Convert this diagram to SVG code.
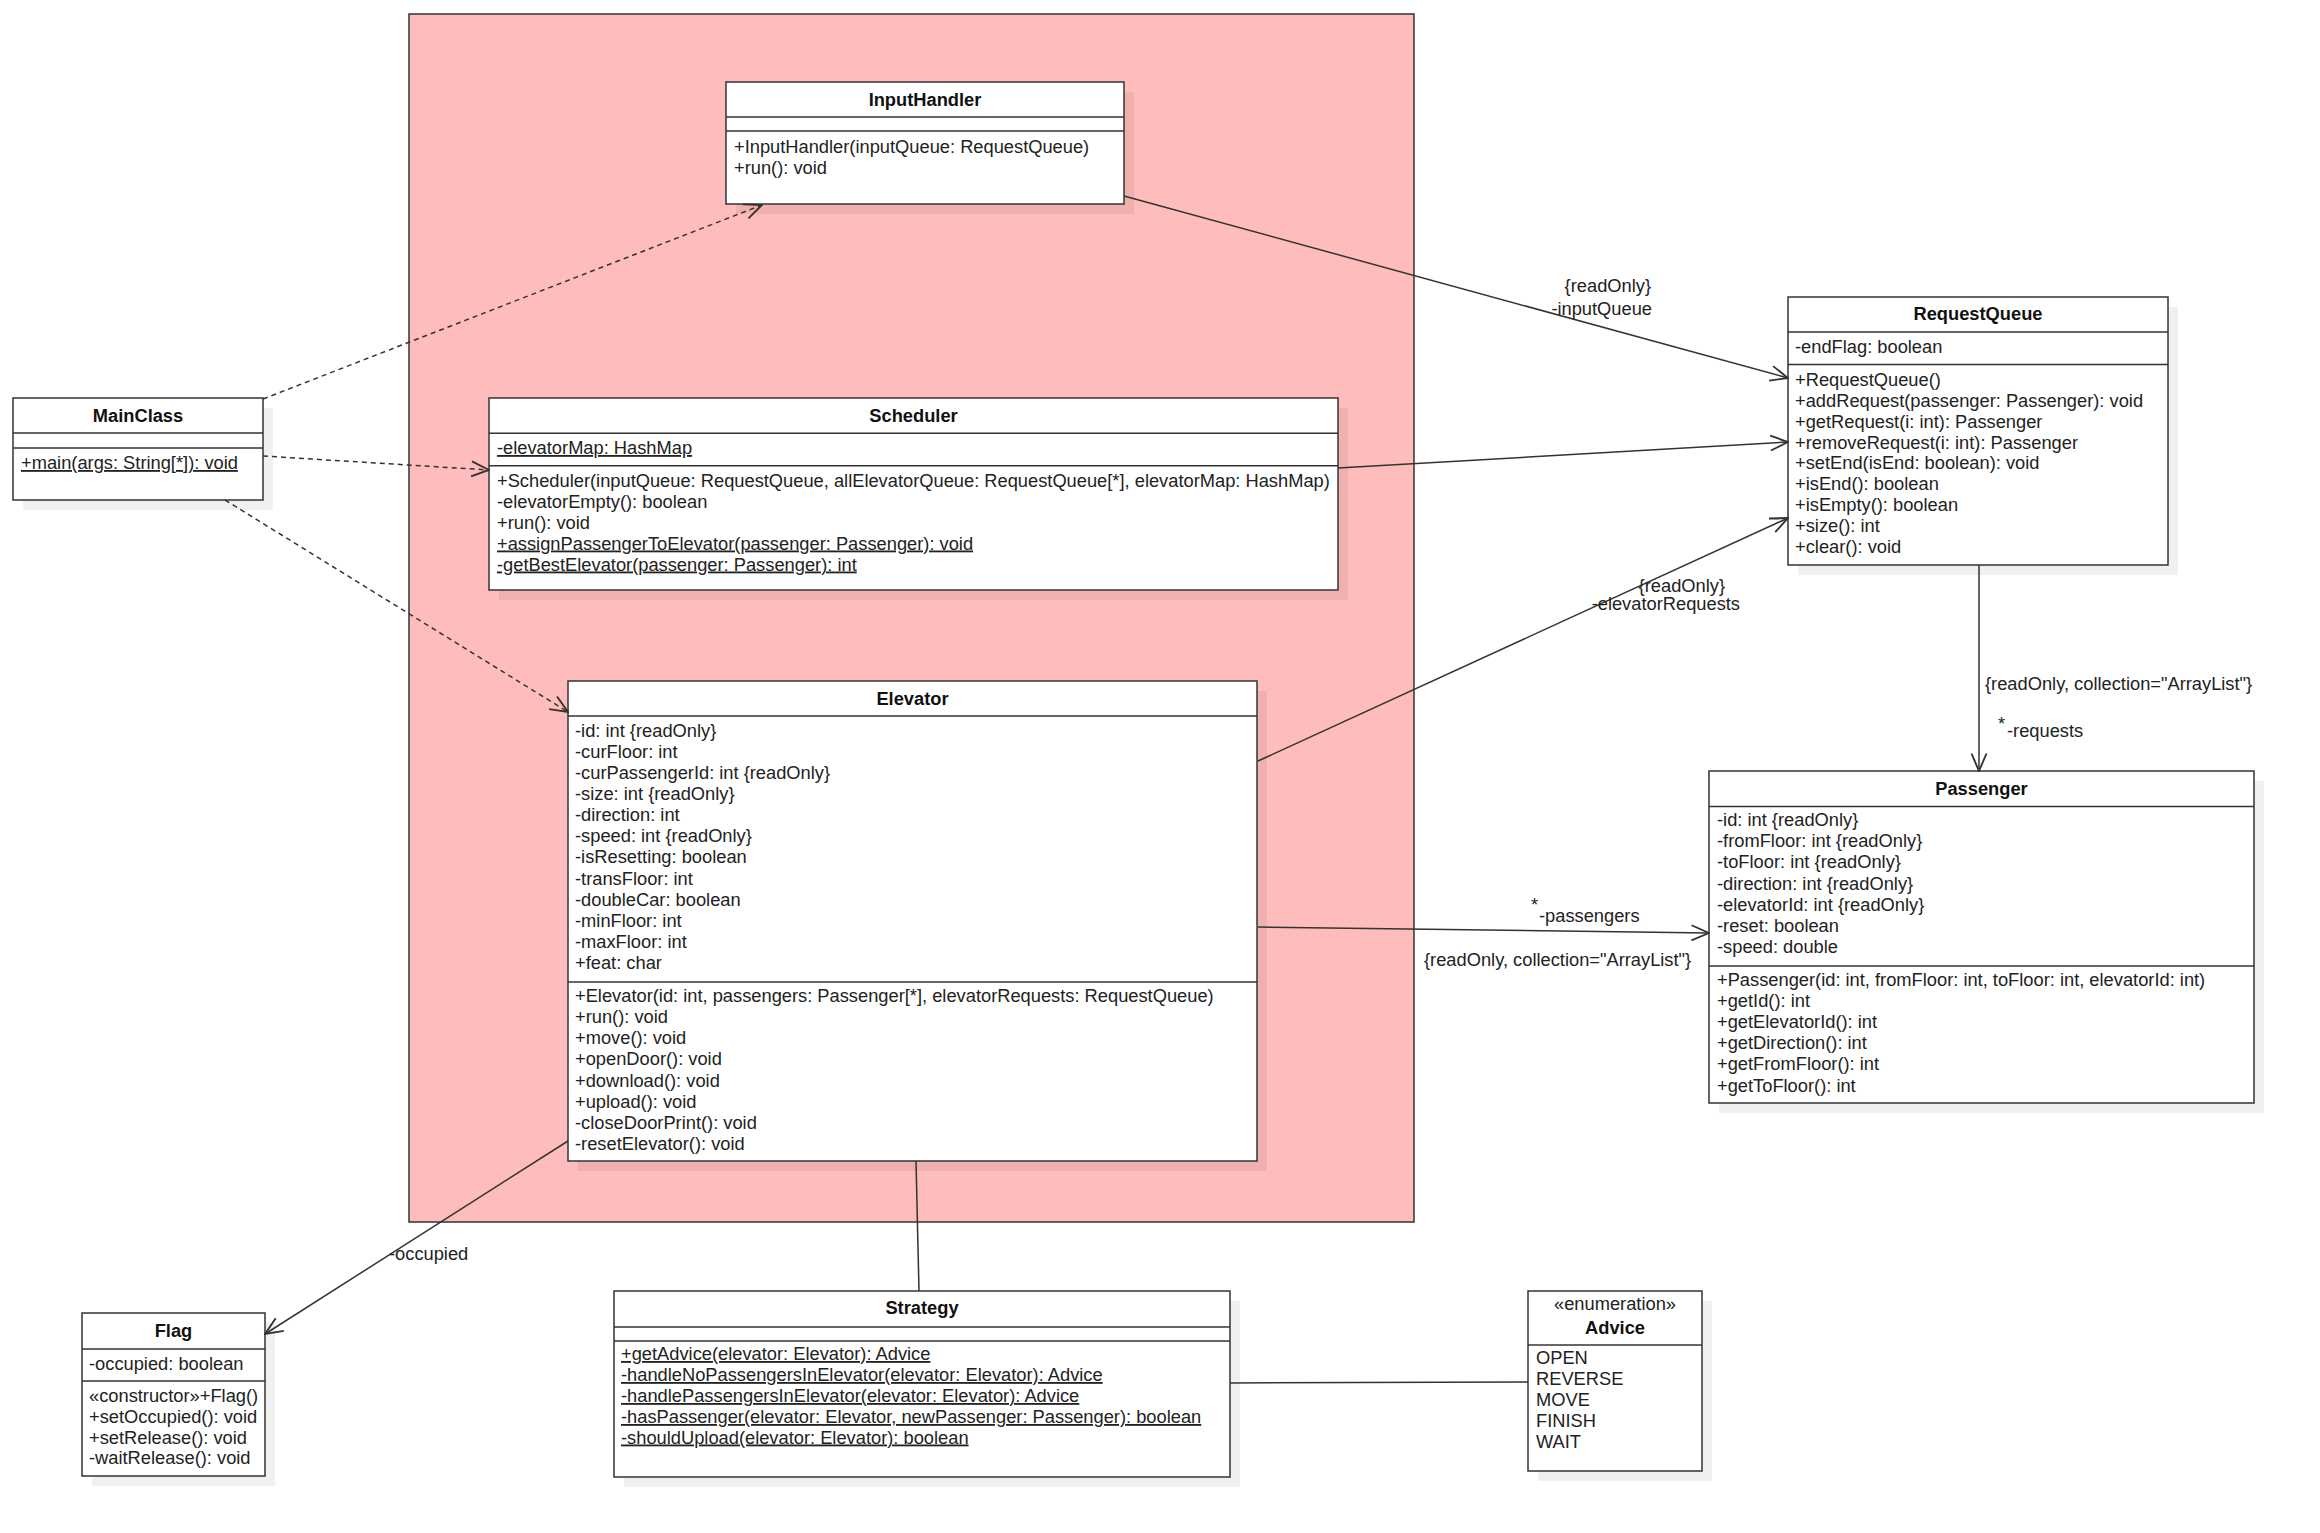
<svg xmlns="http://www.w3.org/2000/svg" width="2320" height="1533" viewBox="0 0 2320 1533">
<style>
text{font-family:"Liberation Sans",Arial,sans-serif;font-size:18.3px;fill:#222}
.t{font-weight:bold;fill:#111;text-anchor:middle}
.c{text-anchor:middle}
.e{text-anchor:end}
.u{text-decoration:underline}
.box{fill:#fff;stroke:#333;stroke-width:1.5}
.sh{fill:#000;fill-opacity:0.06}
.sep{stroke:#333;stroke-width:1.5}
.ln{fill:none;stroke:#333;stroke-width:1.5}
.dash{stroke-dasharray:5 4}
</style>
<defs>
<marker id="open" markerUnits="userSpaceOnUse" markerWidth="20" markerHeight="20" viewBox="0 0 16 14" refX="15" refY="7" orient="auto">
<path d="M1,1 L15,7 L1,13" fill="none" stroke="#333" stroke-width="1.5"/>
</marker>
</defs>
<rect id="package" x="409" y="14" width="1005" height="1208" fill="#ffbcbc" stroke="#333" stroke-width="1.5"/>

<g id="MainClass">
<rect class="sh" x="23" y="408" width="250" height="102"/>
<rect class="box" x="13" y="398" width="250" height="102"/>
<line class="sep" x1="13" y1="433" x2="263" y2="433"/>
<line class="sep" x1="13" y1="448" x2="263" y2="448"/>
<text class="t" x="138" y="422">MainClass</text>
<text class="u" x="21" y="469">+main(args: String[*]): void</text>
</g>

<g id="InputHandler">
<rect class="sh" x="736" y="92" width="398" height="122"/>
<rect class="box" x="726" y="82" width="398" height="122"/>
<line class="sep" x1="726" y1="117" x2="1124" y2="117"/>
<line class="sep" x1="726" y1="131" x2="1124" y2="131"/>
<text class="t" x="925" y="105.5">InputHandler</text>
<text x="734" y="152.5">+InputHandler(inputQueue: RequestQueue)</text>
<text x="734" y="173.5">+run(): void</text>
</g>

<g id="Scheduler">
<rect class="sh" x="499" y="408" width="849" height="192"/>
<rect class="box" x="489" y="398" width="849" height="192"/>
<line class="sep" x1="489" y1="433.3" x2="1338" y2="433.3"/>
<line class="sep" x1="489" y1="465.7" x2="1338" y2="465.7"/>
<text class="t" x="913.5" y="422">Scheduler</text>
<text class="u" x="497" y="454">-elevatorMap: HashMap</text>
<text x="497" y="486.5">+Scheduler(inputQueue: RequestQueue, allElevatorQueue: RequestQueue[*], elevatorMap: HashMap)</text>
<text x="497" y="507.5">-elevatorEmpty(): boolean</text>
<text x="497" y="528.5">+run(): void</text>
<text class="u" x="497" y="549.5">+assignPassengerToElevator(passenger: Passenger): void</text>
<text class="u" x="497" y="570.5">-getBestElevator(passenger: Passenger): int</text>
</g>

<g id="Elevator">
<rect class="sh" x="578" y="691" width="689" height="480"/>
<rect class="box" x="568" y="681" width="689" height="480"/>
<line class="sep" x1="568" y1="716" x2="1257" y2="716"/>
<line class="sep" x1="568" y1="982" x2="1257" y2="982"/>
<text class="t" x="912.5" y="704.5">Elevator</text>
<text x="575" y="736.7">-id: int {readOnly}</text>
<text x="575" y="757.8">-curFloor: int</text>
<text x="575" y="778.9">-curPassengerId: int {readOnly}</text>
<text x="575" y="800">-size: int {readOnly}</text>
<text x="575" y="821.2">-direction: int</text>
<text x="575" y="842.3">-speed: int {readOnly}</text>
<text x="575" y="863.4">-isResetting: boolean</text>
<text x="575" y="884.5">-transFloor: int</text>
<text x="575" y="905.7">-doubleCar: boolean</text>
<text x="575" y="926.8">-minFloor: int</text>
<text x="575" y="947.9">-maxFloor: int</text>
<text x="575" y="969">+feat: char</text>
<text x="575" y="1001.7">+Elevator(id: int, passengers: Passenger[*], elevatorRequests: RequestQueue)</text>
<text x="575" y="1022.9">+run(): void</text>
<text x="575" y="1044.1">+move(): void</text>
<text x="575" y="1065.3">+openDoor(): void</text>
<text x="575" y="1086.5">+download(): void</text>
<text x="575" y="1107.7">+upload(): void</text>
<text x="575" y="1128.9">-closeDoorPrint(): void</text>
<text x="575" y="1150.1">-resetElevator(): void</text>
</g>

<g id="RequestQueue">
<rect class="sh" x="1798" y="307" width="380" height="268"/>
<rect class="box" x="1788" y="297" width="380" height="268"/>
<line class="sep" x1="1788" y1="332" x2="2168" y2="332"/>
<line class="sep" x1="1788" y1="364.5" x2="2168" y2="364.5"/>
<text class="t" x="1978" y="319.5">RequestQueue</text>
<text x="1795" y="352.7">-endFlag: boolean</text>
<text x="1795" y="386">+RequestQueue()</text>
<text x="1795" y="406.9">+addRequest(passenger: Passenger): void</text>
<text x="1795" y="427.7">+getRequest(i: int): Passenger</text>
<text x="1795" y="448.6">+removeRequest(i: int): Passenger</text>
<text x="1795" y="469.4">+setEnd(isEnd: boolean): void</text>
<text x="1795" y="490.3">+isEnd(): boolean</text>
<text x="1795" y="511.1">+isEmpty(): boolean</text>
<text x="1795" y="532">+size(): int</text>
<text x="1795" y="552.8">+clear(): void</text>
</g>

<g id="Passenger">
<rect class="sh" x="1719" y="781" width="545" height="332"/>
<rect class="box" x="1709" y="771" width="545" height="332"/>
<line class="sep" x1="1709" y1="806.5" x2="2254" y2="806.5"/>
<line class="sep" x1="1709" y1="966" x2="2254" y2="966"/>
<text class="t" x="1981.5" y="794.5">Passenger</text>
<text x="1717" y="826">-id: int {readOnly}</text>
<text x="1717" y="847.2">-fromFloor: int {readOnly}</text>
<text x="1717" y="868.3">-toFloor: int {readOnly}</text>
<text x="1717" y="889.5">-direction: int {readOnly}</text>
<text x="1717" y="910.6">-elevatorId: int {readOnly}</text>
<text x="1717" y="931.8">-reset: boolean</text>
<text x="1717" y="952.9">-speed: double</text>
<text x="1717" y="986">+Passenger(id: int, fromFloor: int, toFloor: int, elevatorId: int)</text>
<text x="1717" y="1007.1">+getId(): int</text>
<text x="1717" y="1028.2">+getElevatorId(): int</text>
<text x="1717" y="1049.3">+getDirection(): int</text>
<text x="1717" y="1070.4">+getFromFloor(): int</text>
<text x="1717" y="1091.5">+getToFloor(): int</text>
</g>

<g id="Flag">
<rect class="sh" x="92" y="1323" width="183" height="163"/>
<rect class="box" x="82" y="1313" width="183" height="163"/>
<line class="sep" x1="82" y1="1349" x2="265" y2="1349"/>
<line class="sep" x1="82" y1="1381" x2="265" y2="1381"/>
<text class="t" x="173.5" y="1337">Flag</text>
<text x="89" y="1370">-occupied: boolean</text>
<text x="89" y="1401.7">«constructor»+Flag()</text>
<text x="89" y="1422.7">+setOccupied(): void</text>
<text x="89" y="1443.5">+setRelease(): void</text>
<text x="89" y="1464.3">-waitRelease(): void</text>
</g>

<g id="Strategy">
<rect class="sh" x="624" y="1301" width="616" height="186"/>
<rect class="box" x="614" y="1291" width="616" height="186"/>
<line class="sep" x1="614" y1="1327" x2="1230" y2="1327"/>
<line class="sep" x1="614" y1="1341" x2="1230" y2="1341"/>
<text class="t" x="922" y="1313.5">Strategy</text>
<text class="u" x="621" y="1360">+getAdvice(elevator: Elevator): Advice</text>
<text class="u" x="621" y="1381">-handleNoPassengersInElevator(elevator: Elevator): Advice</text>
<text class="u" x="621" y="1402">-handlePassengersInElevator(elevator: Elevator): Advice</text>
<text class="u" x="621" y="1423">-hasPassenger(elevator: Elevator, newPassenger: Passenger): boolean</text>
<text class="u" x="621" y="1443.5">-shouldUpload(elevator: Elevator): boolean</text>
</g>

<g id="Advice">
<rect class="sh" x="1538" y="1301" width="174" height="180"/>
<rect class="box" x="1528" y="1291" width="174" height="180"/>
<line class="sep" x1="1528" y1="1345" x2="1702" y2="1345"/>
<text class="c" x="1615" y="1310">«enumeration»</text>
<text class="t" x="1615" y="1333.5">Advice</text>
<text x="1536" y="1364">OPEN</text>
<text x="1536" y="1385">REVERSE</text>
<text x="1536" y="1406">MOVE</text>
<text x="1536" y="1427">FINISH</text>
<text x="1536" y="1448">WAIT</text>
</g>

<g id="connectors">
<path class="ln dash" d="M263,399 L762,205" marker-end="url(#open)"/>
<path class="ln dash" d="M263,456 L489,470" marker-end="url(#open)"/>
<path class="ln dash" d="M225,500 L568,712" marker-end="url(#open)"/>
<path class="ln" d="M1124,196 L1788,378" marker-end="url(#open)"/>
<path class="ln" d="M1338,468 L1788,442" marker-end="url(#open)"/>
<path class="ln" d="M1258,761 L1788,518" marker-end="url(#open)"/>
<path class="ln" d="M1258,927 L1709,933" marker-end="url(#open)"/>
<path class="ln" d="M1979,565 L1979,771" marker-end="url(#open)"/>
<path class="ln" d="M568,1141 L265,1334" marker-end="url(#open)"/>
<path class="ln" d="M916,1161 L919,1291"/>
<path class="ln" d="M1230,1383 L1528,1382"/>
<text class="e" x="1651" y="292">{readOnly}</text>
<text class="e" x="1652" y="315">-inputQueue</text>
<text class="e" x="1725" y="592">{readOnly}</text>
<text class="e" x="1740" y="610">-elevatorRequests</text>
<text x="1531" y="911">*</text>
<text x="1539" y="922">-passengers</text>
<text x="1424" y="966">{readOnly, collection="ArrayList"}</text>
<text x="1985" y="690">{readOnly, collection="ArrayList"}</text>
<text x="1998" y="730">*</text>
<text x="2007" y="737">-requests</text>
<text x="389" y="1260">-occupied</text>
</g>
</svg>
